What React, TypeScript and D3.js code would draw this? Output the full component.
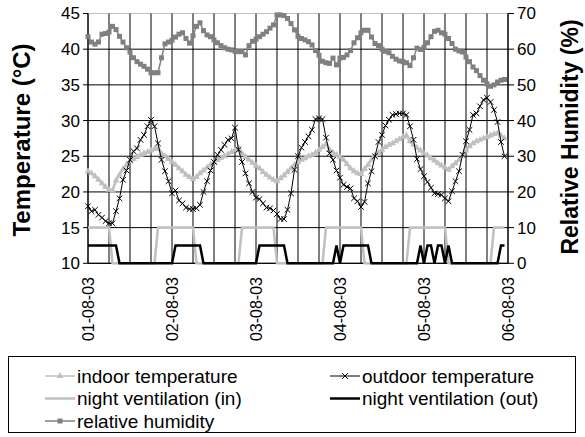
import React from "react";
import * as d3 from "d3";

const dateLabels = ["01-08-03", "02-08-03", "03-08-03", "04-08-03", "05-08-03", "06-08-03"];
const tempTicks = [10, 15, 20, 25, 30, 35, 40, 45];
const rhTicks = [0, 10, 20, 30, 40, 50, 60, 70];

// hourly values, 01-08-03 00:00 .. 05-08-03 23:00
const outdoorTemp = [
  18.0, 17.3, 17.5, 16.8, 16.4, 15.9, 15.6, 15.6, 17.3, 19.1, 21.7, 23.0, 24.5, 25.7, 26.1, 27.3, 28.0, 29.2, 30.1, 29.2, 26.8, 24.5, 22.9, 21.5,
  19.8, 20.2, 18.8, 18.4, 17.8, 17.6, 17.6, 17.7, 18.2, 20.0, 21.5, 23.0, 24.2, 25.2, 25.9, 26.6, 27.3, 27.5, 29.0, 25.9, 24.2, 22.6, 21.2, 20.0,
  19.2, 19.0, 18.4, 17.8, 17.7, 17.4, 16.9, 16.2, 16.2, 17.5, 19.8, 23.1, 25.0, 26.2, 27.0, 27.8, 28.7, 30.2, 30.3, 30.2, 27.6, 25.4, 24.5, 23.0,
  22.0, 21.0, 20.7, 20.5, 19.1, 18.7, 17.9, 18.6, 21.2, 22.9, 25.0, 27.0, 28.0, 29.3, 30.1, 30.8, 30.9, 31.0, 31.0, 30.8, 29.2, 27.3, 24.6, 23.2,
  22.2, 21.4, 20.6, 19.8, 19.7, 19.6, 19.1, 18.7, 20.1, 21.5, 22.9, 25.2, 27.1, 28.7, 30.8, 31.0, 32.0, 32.9, 33.2, 32.6, 31.5, 29.8, 27.0, 25.0,
];

const indoorTemp = [
  22.9, 22.6, 22.2, 21.7, 21.2, 20.7, 20.3, 20.2, 21.6, 22.4, 23.2, 23.8, 24.3, 24.6, 24.9, 25.2, 25.4, 25.6, 25.8, 26.0, 26.1, 25.4, 25.0, 24.6,
  24.2, 23.8, 23.3, 22.9, 22.4, 22.1, 21.8, 22.1, 22.6, 23.0, 23.4, 23.8, 24.2, 24.5, 24.8, 25.0, 25.3, 25.6, 25.9, 26.2, 25.4, 24.9, 24.5, 24.1,
  23.7, 23.3, 22.8, 22.4, 22.0, 21.7, 21.5, 21.9, 22.3, 22.8, 23.3, 23.8, 24.2, 24.5, 24.7, 25.0, 25.2, 25.5, 25.9, 26.3, 26.7, 25.9, 25.5, 25.2,
  24.9, 24.5, 23.9, 23.3, 22.9, 22.6, 22.5, 23.2, 23.8, 24.5, 25.1, 25.5, 25.9, 26.3, 26.6, 26.8, 27.1, 27.4, 27.7, 27.9, 27.1, 26.6, 26.2, 25.8,
  25.4, 25.1, 24.7, 24.4, 24.0, 23.7, 23.4, 23.1, 23.6, 24.0, 24.5, 25.1, 25.8, 26.4, 26.8, 27.1, 27.3, 27.5, 27.7, 27.9, 28.1, 28.2, 27.9, 27.5,
];

const relHumidity = [
  63.5, 62.0, 61.4, 62.0, 64.2, 64.4, 64.8, 66.4, 65.5, 63.6, 62.0, 60.4, 59.2, 57.6, 56.5, 55.8, 55.2, 54.4, 53.4, 53.4, 53.4, 57.6, 61.5, 62.0,
  62.5, 63.4, 64.2, 64.6, 63.0, 61.7, 63.8, 66.4, 67.4, 65.2, 64.0, 63.5, 62.6, 61.8, 61.0, 60.4, 60.0, 59.8, 59.4, 59.3, 59.3, 58.4, 61.0, 62.2,
  62.8, 63.5, 64.2, 64.9, 65.9, 66.8, 69.6, 69.6, 69.4, 68.6, 67.2, 65.4, 63.6, 63.0, 62.6, 62.1, 61.2, 59.6, 58.3, 56.6, 56.2, 56.0, 57.5, 55.6,
  57.5, 57.7, 58.4, 59.6, 61.8, 63.2, 64.6, 65.3, 65.3, 63.4, 61.6, 61.0, 60.0, 59.4, 59.0, 58.0, 57.2, 56.7, 56.5, 56.2, 55.4, 57.6, 60.3, 59.9,
  60.5, 61.8, 63.5, 65.0, 65.3, 64.6, 64.2, 63.0, 61.6, 60.0, 59.5, 59.2, 57.8, 56.5, 55.0, 54.0, 52.6, 51.3, 50.3, 49.6, 50.0, 50.8, 51.3, 51.5,
];

const ventIn = [
  15, 15, 15, 15, 15, 15, 15, 10, 10, 10, 10, 10, 10, 10, 10, 10, 10, 10, 10, 10, 15, 15, 15, 15,
  15, 15, 15, 15, 15, 15, 15, 10, 10, 10, 10, 10, 10, 10, 10, 10, 10, 10, 10, 10, 15, 15, 15, 15,
  15, 15, 15, 15, 15, 15, 10, 10, 10, 10, 10, 10, 10, 10, 10, 10, 10, 10, 10, 10, 15, 15, 15, 15,
  15, 15, 15, 15, 15, 15, 15, 10, 10, 10, 10, 10, 10, 10, 10, 10, 10, 10, 10, 10, 15, 15, 15, 15,
  15, 15, 15, 15, 15, 15, 15, 10, 10, 10, 10, 10, 10, 10, 10, 10, 10, 10, 10, 10, 15, 15, 15, 15,
];

const ventOut = [
  12.5, 12.5, 12.5, 12.5, 12.5, 12.5, 12.5, 12.5, 12.5, 10, 10, 10, 10, 10, 10, 10, 10, 10, 10, 10, 10, 10, 10, 10,
  10, 12.5, 12.5, 12.5, 12.5, 12.5, 12.5, 12.5, 12.5, 10, 10, 10, 10, 10, 10, 10, 10, 10, 10, 10, 10, 10, 10, 10,
  10, 12.5, 12.5, 12.5, 12.5, 12.5, 12.5, 12.5, 12.5, 10, 10, 10, 10, 10, 10, 10, 10, 10, 10, 10, 10, 10, 10, 12.5,
  10, 12.5, 12.5, 12.5, 12.5, 12.5, 12.5, 12.5, 12.5, 10, 10, 10, 10, 10, 10, 10, 10, 10, 10, 10, 10, 10, 10, 12.5,
  10, 12.5, 12.5, 10, 12.5, 12.5, 10, 12.5, 10, 10, 10, 10, 10, 10, 10, 10, 10, 10, 10, 10, 10, 10, 12.5, 12.5,
];

const FONT = "'Liberation Sans', Arial, sans-serif";
const W = 585;
const H = 437;
const L = 88, R = 508, T = 13.5, B = 263.3;

export default function App() {
  const nHours = 120;
  const x = d3.scaleLinear().domain([0, nHours]).range([L, R]);
  const yT = d3.scaleLinear().domain([10, 45]).range([B, T]);
  const yR = d3.scaleLinear().domain([0, 70]).range([B, T]);

  const lineT = d3.line<number>().x((_, i) => x(i)).y((d) => yT(d));
  const lineR = d3.line<number>().x((_, i) => x(i)).y((d) => yR(d));

  const tri = d3.symbol(d3.symbolTriangle, 20)() as string;
  const sq = d3.symbol(d3.symbolSquare, 25)() as string;
  const cross = "M-2.8,-2.8L2.8,2.8M-2.8,2.8L2.8,-2.8";

  const vGrid = d3.range(0, nHours + 1, 6);

  const legendRows = [
    { col: 0, row: 0, label: "indoor temperature", color: "#c0c0c0", w: 1.5, marker: "tri" },
    { col: 1, row: 0, label: "outdoor temperature", color: "#000000", w: 1, marker: "cross" },
    { col: 0, row: 1, label: "night ventilation (in)", color: "#c0c0c0", w: 2.5, marker: "" },
    { col: 1, row: 1, label: "night ventilation (out)", color: "#000000", w: 2.5, marker: "" },
    { col: 0, row: 2, label: "relative humidity", color: "#808080", w: 1.5, marker: "sq" },
  ];
  const legTop = 356, legBottom = 432;
  const rowY = [376, 398.5, 421];
  const colX = [45, 330];

  return (
    <svg width={W} height={H} style={{ position: "absolute", left: 0, top: 0, background: "#fff" }} fontFamily={FONT}>
      <rect x={0} y={0} width={W} height={H} fill="#fff" />
      {/* gridlines */}
      {tempTicks.map((t) => (
        <line key={"h" + t} x1={L} x2={R} y1={yT(t)} y2={yT(t)} stroke={t === 45 ? "#c0c0c0" : "#000"} strokeWidth={1} />
      ))}
      {vGrid.map((h) => (
        <line key={"v" + h} x1={x(h)} x2={x(h)} y1={T} y2={B} stroke="#000" strokeWidth={1} />
      ))}
      {/* axes */}
      <line x1={L} x2={L} y1={T} y2={B} stroke="#000" />
      <line x1={R} x2={R} y1={T} y2={B} stroke="#000" />
      <line x1={L} x2={R} y1={B} y2={B} stroke="#000" />
      {tempTicks.map((t) => (
        <g key={"lt" + t}>
          <line x1={L - 5} x2={L} y1={yT(t)} y2={yT(t)} stroke="#000" />
          <text x={80} y={yT(t)} dy="0.35em" textAnchor="end" fontSize={17}>{t}</text>
        </g>
      ))}
      {rhTicks.map((t) => (
        <g key={"rt" + t}>
          <line x1={R} x2={R + 6} y1={yR(t)} y2={yR(t)} stroke="#000" />
          <text x={517} y={yR(t)} dy="0.35em" textAnchor="start" fontSize={17}>{t}</text>
        </g>
      ))}
      {dateLabels.map((lab, i) => (
        <text key={lab} transform={`translate(${x(i * 24)},277) rotate(-90)`} dy="0.35em" textAnchor="end" fontSize={16}>{lab}</text>
      ))}
      <text transform={`translate(30,140) rotate(-90)`} textAnchor="middle" fontSize={24} fontWeight="bold">Temperature (°C)</text>
      <text transform={`translate(578,137) rotate(-90)`} textAnchor="middle" fontSize={23} fontWeight="bold">Relative Humidity (%)</text>

      {/* series */}
      <path d={lineT(ventIn) as string} fill="none" stroke="#c0c0c0" strokeWidth={2.5} />
      <path d={lineT(ventOut) as string} fill="none" stroke="#000" strokeWidth={2.5} />
      <path d={lineT(indoorTemp) as string} fill="none" stroke="#c0c0c0" strokeWidth={2.5} />
      {indoorTemp.map((d, i) => (
        <path key={"it" + i} d={tri} transform={`translate(${x(i)},${yT(d)})`} fill="#c0c0c0" />
      ))}
      <path d={lineR(relHumidity) as string} fill="none" stroke="#808080" strokeWidth={1.5} />
      {relHumidity.map((d, i) => (
        <path key={"rh" + i} d={sq} transform={`translate(${x(i)},${yR(d)})`} fill="#808080" />
      ))}
      <path d={lineT(outdoorTemp) as string} fill="none" stroke="#000" strokeWidth={1} />
      {outdoorTemp.map((d, i) => (
        <path key={"ot" + i} d={cross} transform={`translate(${x(i)},${yT(d)})`} fill="none" stroke="#000" strokeWidth={1} />
      ))}

      {/* legend */}
      <rect x={8.5} y={legTop + 0.5} width={567} height={legBottom - legTop} fill="#fff" stroke="#000" strokeWidth={1} />
      {legendRows.map((r) => {
        const x0 = colX[r.col];
        const y0 = rowY[r.row];
        return (
          <g key={r.label}>
            <line x1={x0} x2={x0 + 30} y1={y0} y2={y0} stroke={r.color} strokeWidth={r.w} />
            {r.marker === "tri" && <path d={tri} transform={`translate(${x0 + 15},${y0})`} fill={r.color} />}
            {r.marker === "sq" && <path d={sq} transform={`translate(${x0 + 15},${y0})`} fill={r.color} />}
            {r.marker === "cross" && <path d={cross} transform={`translate(${x0 + 15},${y0})`} fill="none" stroke={r.color} />}
            <text x={x0 + 32} y={y0} dy="0.35em" fontSize={19}>{r.label}</text>
          </g>
        );
      })}
    </svg>
  );
}
